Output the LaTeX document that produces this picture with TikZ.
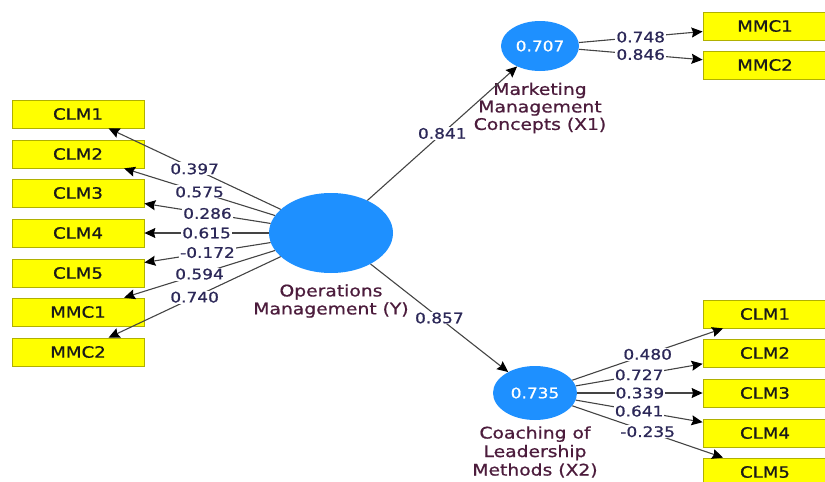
\documentclass[tikz,border=0pt]{standalone}
\usepackage{fontspec}
\setmainfont[FakeStretch=1.17,FakeBold=0.8]{DejaVu Sans}
\usetikzlibrary{arrows.meta,shapes.geometric}
\definecolor{lvblue}{RGB}{30,144,255}
\definecolor{indfill}{RGB}{255,255,0}
\definecolor{inddraw}{RGB}{176,176,0}
\definecolor{numcol}{RGB}{44,40,88}
\definecolor{lvtext}{RGB}{76,28,60}
\definecolor{edgecol}{RGB}{68,68,68}
\tikzset{
  indicator/.style={rectangle, draw=inddraw, fill=indfill, line width=0.8pt,
    minimum width=132pt, minimum height=28pt, inner sep=0pt,
    font=\fontsize{15.5}{17}\selectfont, text=black!90},
  indright/.style={indicator, minimum width=124pt},
  latent/.style={ellipse, fill=lvblue, draw=none, inner sep=0pt,
    font=\fontsize{14.5}{16}\selectfont, text=white},
  lvlabel/.style={align=center, text=lvtext, inner sep=0pt,
    font=\fontsize{16}{18}\selectfont},
  path/.style={draw=edgecol, line width=1.1pt,
    -{Stealth[length=11pt,width=10pt,inset=1.5pt,fill=black,color=black]}},
  coef/.style={midway, fill=white, inner sep=1pt, text=numcol,
    font=\fontsize{14.5}{16}\selectfont}
}
\begin{document}
\begin{tikzpicture}[x=1pt,y=-1pt]
\useasboundingbox (0,0) rectangle (825,482);

% latent variables
\node[latent, minimum width=124pt, minimum height=80pt] (Y) at (331,233) {};
\node[latent, minimum width=78pt, minimum height=50pt] (X1) at (540,46) {0.707};
\node[latent, minimum width=84pt, minimum height=54pt] (X2) at (535,393) {0.735};

\node[lvlabel] (Ylab) at (331,301) {Operations\\Management (Y)};
\node[lvlabel, font=\fontsize{16}{17.5}\selectfont] (X1lab) at (540,108) {Marketing\\Management\\Concepts (X1)};
\node[lvlabel, font=\fontsize{16}{18.5}\selectfont] (X2lab) at (535,452) {Coaching of\\Leadership\\Methods (X2)};

% indicators of Y
\node[indicator] (yc1) at (78,114) {CLM1};
\node[indicator] (yc2) at (78,154) {CLM2};
\node[indicator] (yc3) at (78,193) {CLM3};
\node[indicator] (yc4) at (78,233) {CLM4};
\node[indicator] (yc5) at (78,273) {CLM5};
\node[indicator] (ym1) at (78,312) {MMC1};
\node[indicator] (ym2) at (78,352) {MMC2};

% indicators of X1
\node[indright] (am1) at (765,26) {MMC1};
\node[indright] (am2) at (765,65) {MMC2};

% indicators of X2
\node[indright] (bc1) at (765,314) {CLM1};
\node[indright] (bc2) at (765,353) {CLM2};
\node[indright] (bc3) at (765,393) {CLM3};
\node[indright] (bc4) at (765,433) {CLM4};
\node[indright] (bc5) at (765,472) {CLM5};

% outer loadings
\draw[path] (Y) -- node[coef] {0.397} (yc1);
\draw[path] (Y) -- node[coef] {0.575} (yc2);
\draw[path] (Y) -- node[coef] {0.286} (yc3);
\draw[path] (Y) -- node[coef] {0.615} (yc4);
\draw[path] (Y) -- node[coef] {-0.172} (yc5);
\draw[path] (Y) -- node[coef] {0.594} (ym1);
\draw[path] (Y) -- node[coef] {0.740} (ym2);

\draw[path] (X1) -- node[coef] {0.748} (am1);
\draw[path] (X1) -- node[coef] {0.846} (am2);

\draw[path] (X2) -- node[coef] {0.480} (bc1);
\draw[path] (X2) -- node[coef] {0.727} (bc2);
\draw[path] (X2) -- node[coef] {0.339} (bc3);
\draw[path] (X2) -- node[coef] {0.641} (bc4);
\draw[path] (X2) -- node[coef] {-0.235} (bc5);

% structural paths
\draw[path] (Y) -- node[coef] {0.841} (X1);
\draw[path] (Y) -- node[coef] {0.857} (X2);
\end{tikzpicture}
\end{document}
